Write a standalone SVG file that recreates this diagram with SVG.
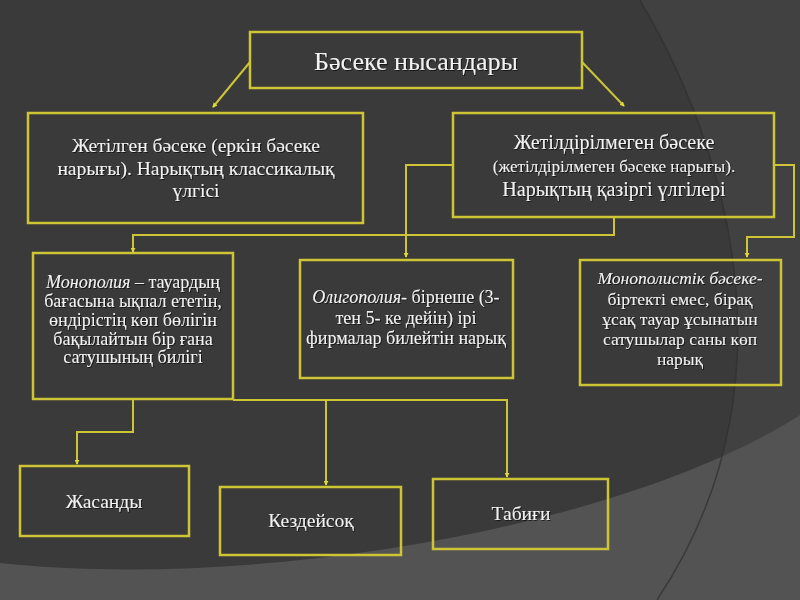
<svg xmlns="http://www.w3.org/2000/svg" width="800" height="600" viewBox="0 0 800 600">
<defs>
<style>
.box{fill:none;stroke:#cdc536;stroke-width:2.5}
.ln{fill:none;stroke:#cdc536;stroke-width:2}
text{font-family:"Liberation Serif","Times New Roman",serif;fill:#f2f2f2;text-anchor:middle;filter:url(#sh)}
.it{font-style:italic}
</style>
<filter id="sh" x="-5%" y="-20%" width="110%" height="140%">
<feDropShadow dx="1" dy="1" stdDeviation="0.6" flood-color="#000" flood-opacity="0.6"/>
</filter>
<marker id="ah" viewBox="0 0 6 6" refX="5" refY="3" markerWidth="5" markerHeight="5" orient="auto" markerUnits="userSpaceOnUse">
<path d="M0,0 L6,3 L0,6 Z" fill="#e0d83a"/>
</marker>
</defs>
<rect width="800" height="600" fill="#3a3a3a"/>
<path d="M640,0 C740,170 790,400 657,600 L800,600 L800,0 Z" fill="#414141"/>
<path d="M0,563 C250,590 620,530 800,415 L800,600 L0,600 Z" fill="#535353"/>
<path d="M640,0 C740,170 790,400 657,600" fill="none" stroke="#2f2f2f" stroke-width="1.5" opacity="0.7"/>

<g id="connectors">
<path class="ln" d="M250,62 L213,107" marker-end="url(#ah)"/>
<path class="ln" d="M582,62 L624,106" marker-end="url(#ah)"/>
<path class="ln" d="M453,165 L406,165 L406,257" marker-end="url(#ah)"/>
<path class="ln" d="M614,217 L614,235 L133,235 L133,252" marker-end="url(#ah)"/>
<path class="ln" d="M774,165 L794,165 L794,237 L747,237 L747,257" marker-end="url(#ah)"/>
<path class="ln" d="M133,400 L133,432 L77,432 L77,464" marker-end="url(#ah)"/>
<path class="ln" d="M233,400 L507,400 L507,477" marker-end="url(#ah)"/>
<path class="ln" d="M326,400 L326,485" marker-end="url(#ah)"/>
</g>

<g id="n-top">
<rect class="box" x="250" y="32" width="332" height="56"/>
<text x="416" y="70" font-size="26">Бәсеке нысандары</text>
</g>

<g id="n-perfect">
<rect class="box" x="28" y="113" width="335" height="110"/>
<text font-size="19.5"><tspan x="196" y="152">Жетілген бәсеке (еркін бәсеке</tspan><tspan x="196" y="174.5">нарығы). Нарықтың классикалық</tspan><tspan x="196" y="197">үлгісі</tspan></text>
</g>

<g id="n-imperfect">
<rect class="box" x="453" y="113" width="321" height="104"/>
<text x="614" y="149" font-size="20">Жетілдірілмеген бәсеке</text>
<text x="614" y="172" font-size="17">(жетілдірілмеген бәсеке нарығы).</text>
<text x="614" y="196" font-size="20">Нарықтың қазіргі үлгілері</text>
</g>

<g id="n-monopoly">
<rect class="box" x="33" y="253" width="200" height="146"/>
<text font-size="18"><tspan x="133" y="288"><tspan class="it">Монополия</tspan> – тауардың</tspan><tspan x="133" y="307">бағасына ықпал ететін,</tspan><tspan x="133" y="326">өндірістің көп бөлігін</tspan><tspan x="133" y="344.5">бақылайтын бір ғана</tspan><tspan x="133" y="363">сатушының билігі</tspan></text>
</g>

<g id="n-oligopoly">
<rect class="box" x="300" y="260" width="213" height="118"/>
<text font-size="18"><tspan x="406" y="303"><tspan class="it">Олигополия</tspan>- бірнеше (3-</tspan><tspan x="406" y="324">тен 5- ке дейін) ірі</tspan><tspan x="406" y="344">фирмалар билейтін нарық</tspan></text>
</g>

<g id="n-monopolistic">
<rect class="box" x="580" y="260" width="201" height="125"/>
<text font-size="17.5"><tspan x="680" y="284" class="it">Монополистік бәсеке-</tspan><tspan x="680" y="305">біртекті емес, бірақ</tspan><tspan x="680" y="325">ұсақ тауар ұсынатын</tspan><tspan x="680" y="345">сатушылар саны көп</tspan><tspan x="680" y="365">нарық</tspan></text>
</g>

<g id="n-artificial">
<rect class="box" x="20" y="466" width="169" height="70"/>
<text x="104" y="508" font-size="19.5">Жасанды</text>
</g>

<g id="n-random">
<rect class="box" x="220" y="487" width="181" height="68"/>
<text x="311" y="527" font-size="19.5">Кездейсоқ</text>
</g>

<g id="n-natural">
<rect class="box" x="433" y="479" width="175" height="70"/>
<text x="521" y="520" font-size="19.5">Табиғи</text>
</g>
</svg>
